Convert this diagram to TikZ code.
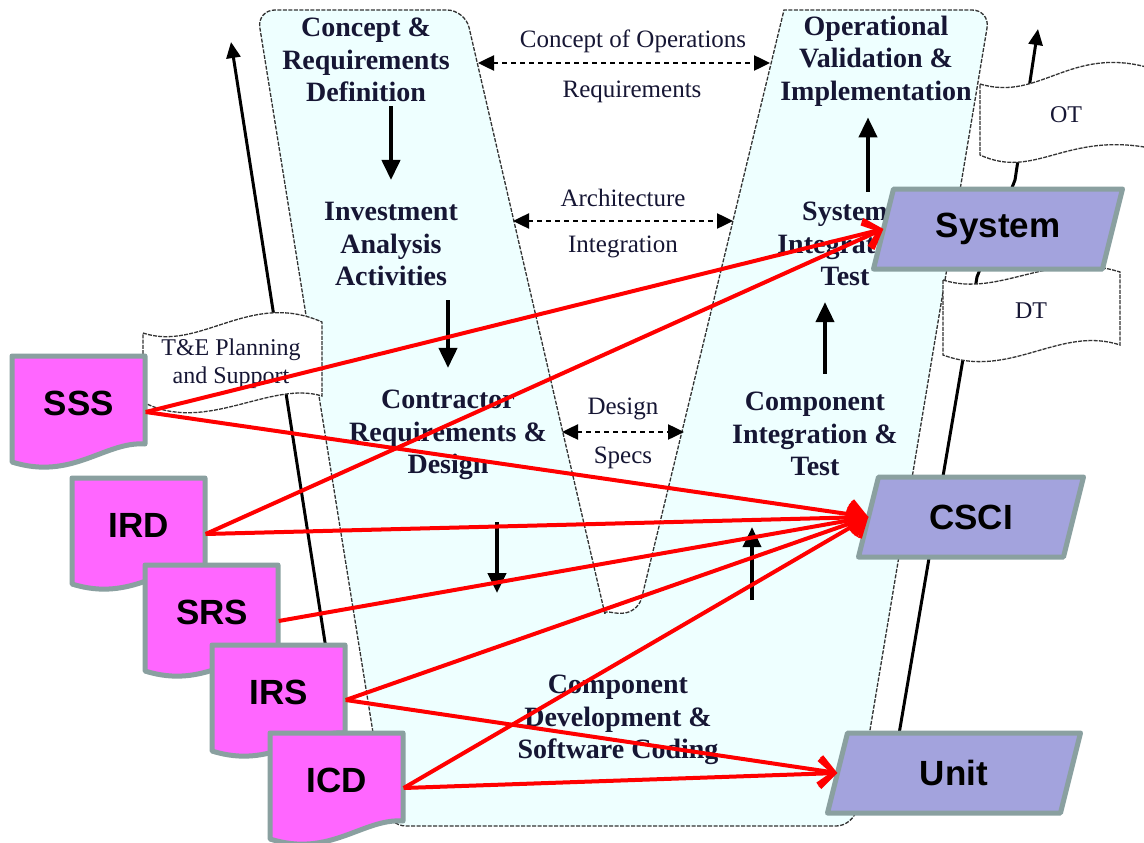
\documentclass[tikz,border=0pt]{standalone}
\usepackage{fontspec}
\setmainfont{Liberation Serif}
\setsansfont{Liberation Sans}
\usetikzlibrary{arrows.meta,calc}

\definecolor{vfill}{RGB}{238,255,255}
\definecolor{txtnavy}{RGB}{22,22,52}
\definecolor{docpink}{RGB}{255,102,255}
\definecolor{edgegrey}{RGB}{138,160,160}
\definecolor{tierblue}{RGB}{163,163,221}

\tikzset{
 phase/.style={font={\bfseries\fontsize{28}{32.5}\selectfont}, align=center, text=txtnavy, inner sep=0pt},
 link/.style={font={\fontsize{25}{28}\selectfont}, align=center, text=txtnavy, inner sep=0pt},
 flow/.style={line width=4pt, -{Triangle[length=20pt,width=18pt]}},
 exch/.style={line width=2.5pt, dash pattern=on 5pt off 4pt,
   {Triangle[length=16pt,width=15pt]}-{Triangle[length=16pt,width=15pt]}},
 pole/.style={line width=3pt, line join=round, -{Triangle[length=16pt,width=14pt]}},
 banner/.style={fill=white, draw=black!80, line width=1.3pt, dash pattern=on 4pt off 1.2pt},
 vshape/.style={fill=vfill, draw=black!80, line width=1.3pt, dash pattern=on 4pt off 1.5pt},
 docbody/.style={fill=docpink, draw=edgegrey, line width=5pt, line join=round},
 doclabel/.style={font={\sffamily\bfseries\fontsize{35}{40}\selectfont}, minimum width=133pt, inner sep=0pt},
 tierbody/.style={fill=tierblue, draw=edgegrey, line width=5pt, line join=round},
 tierlabel/.style={font={\sffamily\bfseries\fontsize{35}{40}\selectfont}, inner sep=0pt},
 req/.style={draw=red, line width=4pt, -{Straight Barb[length=15pt,width=28pt]}},
}

% document page with a wavy bottom edge
\newcommand{\docpage}[4]{%
  \path[docbody] (#2,#3) -- ++(133,0) -- ++(0,88)
    .. controls +(-40,-3) and +(60,19) .. ++(-133,18) -- cycle;
  \node[doclabel] (#1) at ($(#2,#3)+(67,47)$) {#4};}
% slanted level box: name, centre x, centre y, width, text
\newcommand{\tierbox}[5]{%
  \path[tierbody] ({#2-#4/2+10},{#3-40}) -- ++(#4,0) -- ++(-20,80) -- ++(-#4,0) -- cycle;
  \node[tierlabel, minimum width=#4pt, minimum height=80pt] (#1) at (#2,#3) {#5};}

\begin{document}
\begin{tikzpicture}[x=1pt,y=-1pt,line cap=butt]
\useasboundingbox (0,0) rectangle (1144,843);
\clip (0,0) rectangle (1144,843);
\fill[white] (0,0) rectangle (1144,843);

% the V
\path[vshape] (388,826) [rounded corners=18pt] -- (257,10) -- (465,10) -- (601,597)
  [sharp corners] arc[start angle=167, end angle=13, radius=21] -- (784,10)
  [rounded corners=18pt] -- (990,10) -- (854,826) -- cycle;

% T&E poles
\draw[pole] (327,655) -- (231,42);
\draw[pole] (898,740) -- (977,277) -- (1015,180) -- (1038,29);

% flags
\path[banner] (143,333) .. controls (200,352) and (250,290) .. (322,322)
  -- (322,396) .. controls (270,380) and (205,435) .. (143,402) -- cycle;
\node[link, font={\fontsize{24}{28}\selectfont}] (tep) at (231,364) {T\&E Planning\\and Support};
\path[banner] (980,84) .. controls (1040,102) and (1070,45) .. (1150,68)
  -- (1150,148) .. controls (1065,132) and (1035,180) .. (980,155) -- cycle;
\node[link, font={\fontsize{24}{28}\selectfont}] (ot) at (1066,115) {OT};
\path[banner] (943,280) .. controls (1000,298) and (1050,250) .. (1120,272)
  -- (1120,345) .. controls (1060,325) and (1010,380) .. (943,355) -- cycle;
\node[link, font={\fontsize{24}{28}\selectfont}] (dt) at (1031,311) {DT};

% phases
\node[phase] (conreq) at (366,60) {Concept \&\\Requirements\\Definition};
\node[phase] (invest) at (391,244) {Investment\\Analysis\\Activities};
\node[phase] (contr) at (448,435) {Contractor\\Requirements \&\\Design};
\node[phase] (compdev) at (618,720) {Component\\Development \&\\Software Coding};
\node[phase] (compint) at (815,434) {Component\\Integration \&\\Test};
\node[phase] (sysint) at (845,244) {System\\Integration\\Test};
\node[phase] (opval) at (876,61) {Operational\\Validation \&\\Implementation};

\draw[flow, shorten <=4pt, shorten >=22pt] (invest.north |- conreq.south) -- (invest.north);
\draw[flow, shorten <=14pt, shorten >=22pt] (contr.north |- invest.south) -- (contr.north);
\draw[flow] ([xshift=49pt,yshift=-42pt]contr.south) -- ++(0,71);
\draw[flow] ([xshift=-63pt,yshift=-124pt]compint.south) -- ++(0,-73);
\draw[flow, shorten <=18pt, shorten >=16pt] ([xshift=10pt]compint.north) -- ([xshift=10pt]compint.north |- sysint.south);
\draw[flow, shorten <=10pt, shorten >=11pt] ([xshift=-8pt]opval.south |- sysint.north) -- ([xshift=-8pt]opval.south);

% exchanges across the V
\node[link] (conops) at (633,41) {Concept of Operations};
\node[link] (reqs) at (632,92) {Requirements};
\node[link] (arch) at (623,198) {Architecture};
\node[link] (integ) at (623,247) {Integration};
\node[link] (dsgn) at (623,409) {Design};
\node[link] (specs) at (623,458) {Specs};
\coordinate (opsL) at (478,63);
\coordinate (opsR) at (770,63);
\coordinate (archL) at (513,221);
\coordinate (archR) at (733,221);
\coordinate (dsgnL) at (562,432);
\coordinate (dsgnR) at (684,432);
\draw[exch] (opsL) -- (opsR);
\draw[exch] (archL) -- (archR);
\draw[exch] (dsgnL) -- (dsgnR);

% documents
\docpage{sss}{12}{356}{SSS}
\docpage{ird}{72}{478}{IRD}
\docpage{srs}{145}{565}{SRS}
\docpage{irs}{212}{645}{IRS}
\docpage{icd}{270}{733}{ICD}

% levels
\tierbox{sys}{998}{229}{229}{System}
\tierbox{csci}{971}{517}{205}{CSCI}
\tierbox{unit}{954}{773}{233}{Unit}

\draw[req] ([yshift=-9pt]sss.east) -- (sys.west);
\draw[req] ([yshift=-9pt]sss.east) -- (csci.west);
\draw[req] ([yshift=-9pt]ird.east) -- (sys.west);
\draw[req] ([yshift=-9pt]ird.east) -- (csci.west);
\draw[req] ([yshift=-9pt]srs.east) -- (csci.west);
\draw[req] ([yshift=-8pt]irs.east) -- (csci.west);
\draw[req] ([yshift=-8pt]irs.east) -- (unit.west);
\draw[req] ([yshift=-8pt]icd.east) -- (csci.west);
\draw[req] ([yshift=-8pt]icd.east) -- (unit.west);
\end{tikzpicture}
\end{document}
